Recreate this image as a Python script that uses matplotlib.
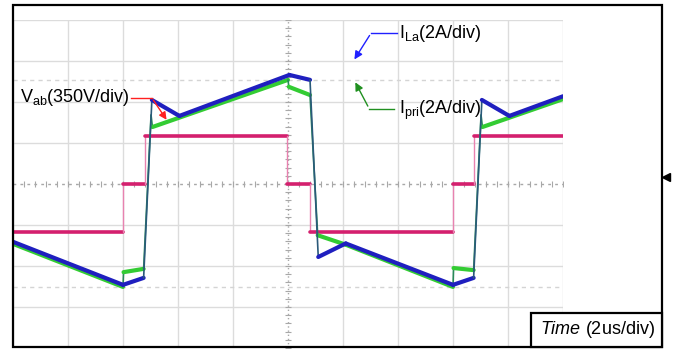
import numpy as np
import matplotlib
matplotlib.use('Agg')
import matplotlib.pyplot as plt
from matplotlib.patches import Rectangle

plt.rcParams['font.family'] = ['Liberation Sans', 'DejaVu Sans']
plt.rcParams['mathtext.fontset'] = 'custom'
plt.rcParams['mathtext.rm'] = 'Liberation Sans'
plt.rcParams['mathtext.it'] = 'Liberation Sans:italic'

# time in us (2us/div), amplitude in divisions
vab_t = [0, 4.0, 4.0, 4.8, 4.8, 9.97, 9.97, 10.8, 10.8, 16.0, 16.0, 16.78, 16.78, 20]
vab_v = [-1.17, -1.17, 0.0, 0.0, 1.17, 1.17, 0.0, 0.0, -1.17, -1.17, 0.0, 0.0, 1.17, 1.17]

ila_t = [0, 4.0, 4.75, 5.05, 6.05, 10.05, 10.8, 11.1, 12.1, 16.0, 16.75, 17.05, 18.05, 20]
ila_v = [-1.41, -2.46, -2.29, 2.05, 1.66, 2.66, 2.54, -1.78, -1.45, -2.46, -2.29, 2.05, 1.66, 2.14]

ipri_t = [0, 4.0, 4.02, 4.75, 5.02, 5.07, 10.0, 10.03, 10.8, 11.08, 12.1,
          16.0, 16.02, 16.75, 17.02, 17.07, 20]
ipri_v = [-1.46, -2.51, -2.15, -2.07, 1.68, 1.39, 2.54, 2.37, 2.17, -1.25, -1.48,
          -2.51, -2.05, -2.1, 1.68, 1.39, 2.07]


def draw_trace(ax, t, v, color, lw_slow, lw_fast, fast_color=None):
    # thin line on fast edges, thick on slow parts, like a scope capture
    for i in range(len(t) - 1):
        dt = t[i + 1] - t[i]
        dv = v[i + 1] - v[i]
        fast = dt == 0 or abs(dv / dt) > 5
        ax.plot(t[i:i + 2], v[i:i + 2],
                color=(fast_color or color) if fast else color,
                lw=lw_fast if fast else lw_slow, solid_capstyle='round')


fig = plt.figure(figsize=(6.76, 3.51), dpi=100)
ax = fig.add_axes([13 / 676, 3 / 351, 550 / 676, 328 / 351])
ax.set_xlim(0, 20)
ax.set_ylim(-4, 4)
ax.axis('off')

# grid
for x in range(0, 21, 2):
    if x != 10:
        ax.axvline(x, color='#dcdcdc', lw=1, zorder=0)
for y in range(-4, 5):
    if y != 0:
        ax.axhline(y, color='#dcdcdc', lw=1, zorder=0)
ax.axvline(10, color='#a8a8a8', lw=1, ls=(0, (1, 2)), zorder=0)
ax.axhline(0, color='#a8a8a8', lw=1, ls=(0, (2, 3)), zorder=0)
ax.plot([10] * 41, np.linspace(-4, 4, 41), ls='none', marker='_', ms=4,
        color='#a8a8a8', mew=0.8, zorder=0)
ax.plot(np.linspace(0, 20, 51), [0] * 51, ls='none', marker='|', ms=4,
        color='#a8a8a8', mew=0.8, zorder=0)
# cursor rows
ax.axhline(2.54, color='#d4d4d4', lw=1, ls=(0, (3, 3)), zorder=0)
ax.axhline(-2.51, color='#d4d4d4', lw=1, ls=(0, (3, 3)), zorder=0)

draw_trace(ax, vab_t, vab_v, '#d4206e', 2.6, 1.0, fast_color='#e882b0')
draw_trace(ax, ipri_t, ipri_v, '#33cc33', 3.0, 1.2, fast_color='#2a8a5a')
draw_trace(ax, ila_t, ila_v, '#1f1fbf', 3.0, 1.2, fast_color='#2a5a7a')

# labels
fs = 13
ax.text(0.27, 2.1, r'V$_{\mathrm{ab}}$(350V/div)', fontsize=fs, va='center', ha='left')
ax.plot([4.3, 5.05], [2.1, 2.1], color='#ff2020', lw=1)
ax.annotate('', xy=(5.64, 1.51), xytext=(5.05, 2.1),
            arrowprops=dict(arrowstyle='-|>', color='#ff2020', lw=1, mutation_scale=11))

ax.text(14.05, 3.68, r'I$_{\mathrm{La}}$(2A/div)', fontsize=fs, va='center', ha='left')
ax.plot([13.95, 13.02], [3.68, 3.68], color='#2020ff', lw=1)
ax.annotate('', xy=(12.36, 2.98), xytext=(13.02, 3.68),
            arrowprops=dict(arrowstyle='-|>', color='#2020ff', lw=1, mutation_scale=12))

ax.text(14.05, 1.8, r'I$_{\mathrm{pri}}$(2A/div)', fontsize=fs, va='center', ha='left')
ax.plot([13.85, 12.95], [1.84, 1.84], color='#209020', lw=1)
ax.annotate('', xy=(12.4, 2.54), xytext=(12.95, 1.84),
            arrowprops=dict(arrowstyle='-|>', color='#209020', lw=1, mutation_scale=12))

# outer frame
fig.patches.append(Rectangle((13 / 676, 4 / 351), 649 / 676, 342 / 351,
                             transform=fig.transFigure, fill=False,
                             edgecolor='black', lw=1.6))
fig.patches.append(Rectangle((531 / 676, 4 / 351), 131 / 676, 34 / 351,
                             transform=fig.transFigure, fill=True, facecolor='white',
                             edgecolor='black', lw=1.6))
fig.text(597 / 676, 1 - 330 / 351, r'$\mathit{Time}$ (2us/div)', fontsize=fs,
         ha='center', va='center')
fig.lines.append(plt.Line2D([666 / 676], [1 - 177 / 351], marker='<', ms=6,
                            color='black', transform=fig.transFigure))

fig.savefig('out.png', dpi=100)
